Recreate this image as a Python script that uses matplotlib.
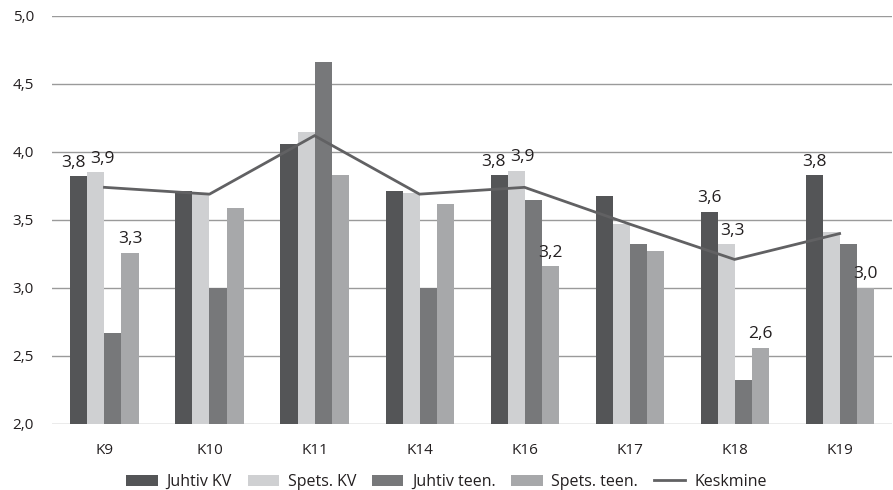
import matplotlib
matplotlib.use("Agg")
import matplotlib.pyplot as plt
import numpy as np
from matplotlib.patches import Patch
from matplotlib.lines import Line2D

plt.rcParams["font.family"] = ["Open Sans", "DejaVu Sans"]

categories = ["K9", "K10", "K11", "K14", "K16", "K17", "K18", "K19"]
juhtiv_kv = [3.82, 3.71, 4.06, 3.71, 3.83, 3.68, 3.56, 3.83]
spets_kv = [3.85, 3.70, 4.15, 3.70, 3.86, 3.47, 3.32, 3.41]
juhtiv_teen = [2.67, 3.00, 4.66, 3.00, 3.65, 3.32, 2.32, 3.32]
spets_teen = [3.26, 3.59, 3.83, 3.62, 3.16, 3.27, 2.56, 3.00]
keskmine = [3.74, 3.69, 4.12, 3.69, 3.74, 3.47, 3.21, 3.40]

series_names = ["Juhtiv KV", "Spets. KV", "Juhtiv teen.", "Spets. teen."]
series_values = [juhtiv_kv, spets_kv, juhtiv_teen, spets_teen]
series_colors = ["#545557", "#cfd0d2", "#77787a", "#a7a8aa"]
line_color = "#616163"

# value labels: (series index, category index, horizontal placement)
labelled = [(0, 0, "right"), (1, 0, "left"), (3, 0, "center"),
            (0, 4, "right"), (1, 4, "left"), (3, 4, "center"),
            (0, 6, "center"), (1, 6, "left"), (3, 6, "center"),
            (0, 7, "center"), (3, 7, "center")]

fig = plt.figure(figsize=(8.93, 4.90), dpi=100)
ax = fig.add_axes([0.0582, 0.1347, 0.9408, 0.8327])

x = np.arange(len(categories))
bw = 0.162
offsets = (np.arange(4) - 1.5) * bw

for i, (vals, col) in enumerate(zip(series_values, series_colors)):
    ax.bar(x + offsets[i], np.array(vals) - 2.0, bw, bottom=2.0,
           color=col, edgecolor="none", zorder=2)

ax.plot(x, keskmine, color=line_color, lw=2.0, zorder=3,
        solid_joinstyle="miter")

for si, ci, place in labelled:
    v = series_values[si][ci]
    xc = x[ci] + offsets[si]
    if place == "right":
        xp, dx = xc + bw / 2, -1
    elif place == "left":
        xp, dx = xc - bw / 2, 2
    else:
        xp, dx = xc, 0
    ax.annotate(f"{v:.1f}".replace(".", ","), (xp, v), xytext=(dx, 4),
                textcoords="offset points", ha=place, va="bottom",
                fontsize=12.5, color="#231f20", zorder=4)

ax.set_ylim(2.0, 5.0)
ax.set_xlim(-0.5, len(categories) - 0.5)
yt = np.arange(2.0, 5.01, 0.5)
ax.set_yticks(yt)
ax.set_yticklabels([f"{t:.1f}".replace(".", ",") for t in yt])
ax.set_xticks(x)
ax.set_xticklabels(categories)
ax.tick_params(axis="both", length=0, labelsize=11, colors="#231f20")
ax.tick_params(axis="y", pad=13)
ax.tick_params(axis="x", pad=14)
for sp in ax.spines.values():
    sp.set_visible(False)
ax.grid(axis="y", color="#9a9a9a", lw=1.0, zorder=0)
ax.set_axisbelow(True)

handles = [Patch(facecolor=c, edgecolor="none") for c in series_colors]
handles.append(Line2D([], [], color=line_color, lw=2.0))
fig.legend(handles, series_names + ["Keskmine"], loc="center",
           bbox_to_anchor=(0.5, 0.016), ncol=5, frameon=False,
           fontsize=11.5, handlelength=1.95, handleheight=0.75,
           handletextpad=0.55, columnspacing=1.0, labelcolor="#231f20")

fig.savefig("out.png", dpi=100)
